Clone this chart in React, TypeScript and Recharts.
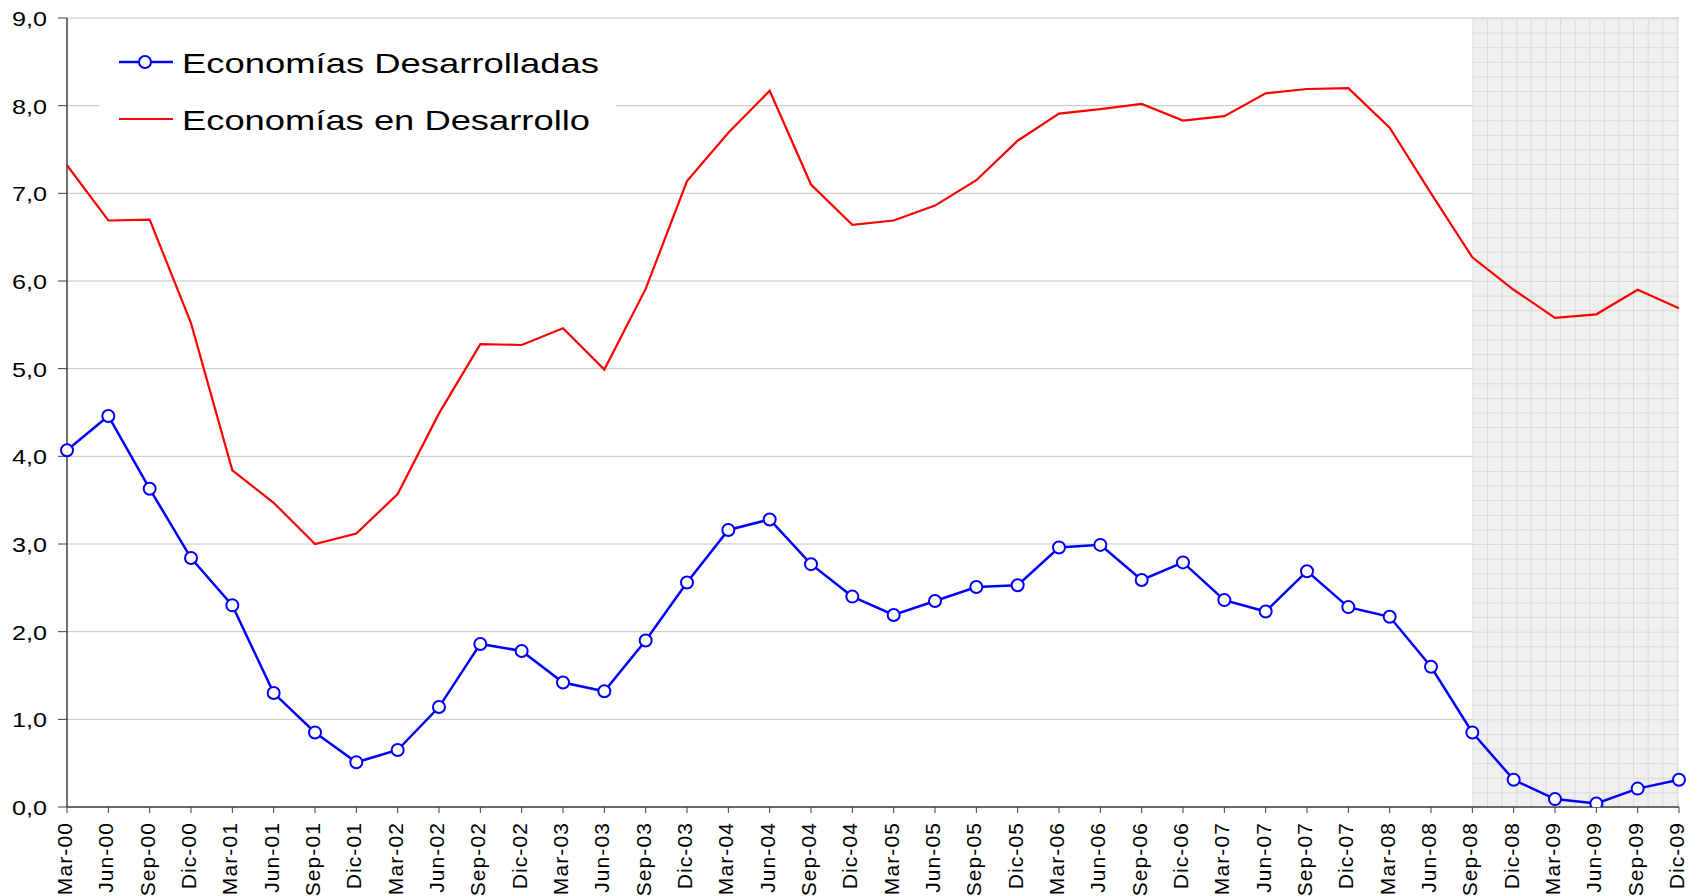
import React from 'react';
import { LineChart, Line, XAxis, YAxis, CartesianGrid, ReferenceArea, Legend } from 'recharts';

const categories = [
  'Mar-00', 'Jun-00', 'Sep-00', 'Dic-00',
  'Mar-01', 'Jun-01', 'Sep-01', 'Dic-01',
  'Mar-02', 'Jun-02', 'Sep-02', 'Dic-02',
  'Mar-03', 'Jun-03', 'Sep-03', 'Dic-03',
  'Mar-04', 'Jun-04', 'Sep-04', 'Dic-04',
  'Mar-05', 'Jun-05', 'Sep-05', 'Dic-05',
  'Mar-06', 'Jun-06', 'Sep-06', 'Dic-06',
  'Mar-07', 'Jun-07', 'Sep-07', 'Dic-07',
  'Mar-08', 'Jun-08', 'Sep-08', 'Dic-08',
  'Mar-09', 'Jun-09', 'Sep-09', 'Dic-09',
];

const developed = [
  4.07, 4.46, 3.63, 2.84,
  2.30, 1.30, 0.85, 0.51,
  0.65, 1.14, 1.86, 1.78,
  1.42, 1.32, 1.90, 2.56,
  3.16, 3.28, 2.77, 2.40,
  2.19, 2.35, 2.51, 2.53,
  2.96, 2.99, 2.59, 2.79,
  2.36, 2.23, 2.69, 2.28,
  2.17, 1.60, 0.85, 0.31,
  0.09, 0.04, 0.21, 0.31,
];

const developing = [
  7.32, 6.69, 6.70, 5.52,
  3.84, 3.47, 3.00, 3.12,
  3.57, 4.49, 5.28, 5.27,
  5.46, 4.99, 5.91, 7.14,
  7.69, 8.17, 7.10, 6.64,
  6.69, 6.86, 7.15, 7.60,
  7.91, 7.96, 8.02, 7.83,
  7.88, 8.14, 8.19, 8.20,
  7.75, 7.00, 6.27, 5.90,
  5.58, 5.62, 5.90, 5.69,
];

const yTicks = [0, 1, 2, 3, 4, 5, 6, 7, 8, 9];
const seriesNames = ['Economías Desarrolladas', 'Economías en Desarrollo'];
const shadeStart = 'Sep-08';
const shadeEnd = 'Dic-09';

const data = categories.map((c, i) => ({ cat: c, dev: developed[i], emg: developing[i] }));

const FONT = '"Liberation Sans", Arial, sans-serif';
const CELL = 87.67 / 6;

const YTick = (props: any) => {
  const { x, y, payload } = props;
  const label = Number(payload.value).toFixed(1).replace('.', ',');
  return (
    <text x={x} y={y + 8} textAnchor="end" fontSize={21} fontFamily={FONT} fill="#000"
      textLength={35} lengthAdjust="spacingAndGlyphs">
      {label}
    </text>
  );
};

const XTick = (props: any) => {
  const { x, payload } = props;
  return (
    <text transform={`translate(${x + 5},822) rotate(-90)`} textAnchor="end" fontSize={21}
      fontFamily={FONT} fill="#000" letterSpacing={1.1}>
      {payload.value}
    </text>
  );
};

const LegendBox = () => (
  <svg width={516} height={115} style={{ display: 'block' }}>
    <rect x={0} y={0} width={516} height={115} fill="#fff" />
    <line x1={19} x2={73} y1={27} y2={27} stroke="#0000ff" strokeWidth={2.5} />
    <circle cx={45} cy={27} r={6} fill="#fff" stroke="#0000ff" strokeWidth={2} />
    <text x={82} y={38} fontSize={28} fontFamily={FONT} fill="#000" textLength={417}
      lengthAdjust="spacingAndGlyphs">{seriesNames[0]}</text>
    <line x1={19} x2={73} y1={84} y2={84} stroke="#ff0000" strokeWidth={2.2} />
    <text x={82} y={95} fontSize={28} fontFamily={FONT} fill="#000" textLength={408}
      lengthAdjust="spacingAndGlyphs">{seriesNames[1]}</text>
  </svg>
);

export default function App() {
  return (
    <div style={{ position: 'absolute', left: 0, top: 0, background: '#fff' }}>
      <LineChart width={1699} height={896} data={data}
        margin={{ top: 18, right: 20, bottom: 0, left: 0 }}>
        <defs>
          <pattern id="shadeGrid" patternUnits="userSpaceOnUse" x={67 + 34 * (1612 / 39)} y={18}
            width={CELL} height={CELL}>
            <rect x={0} y={0} width={CELL} height={CELL} fill="#efefef" />
            <path d={`M0 0.5 H${CELL} M0.5 0 V${CELL}`} stroke="#d9d9d9" strokeWidth={1} fill="none" />
          </pattern>
        </defs>
        <CartesianGrid vertical={false} stroke="#c4c4c4" strokeWidth={1} />
        <ReferenceArea x1={shadeStart} x2={shadeEnd} y1={0} y2={9} fill="url(#shadeGrid)"
          fillOpacity={1} stroke="none" />
        <XAxis dataKey="cat" interval={0} height={89} tickSize={6} tick={<XTick />}
          axisLine={{ stroke: '#404040', strokeWidth: 1.5 }} tickLine={{ stroke: '#404040' }} />
        <YAxis domain={[0, 9]} ticks={yTicks} width={67} tickSize={9} tickMargin={11}
          tick={<YTick />} axisLine={{ stroke: '#404040', strokeWidth: 1.5 }}
          tickLine={{ stroke: '#404040' }} allowDataOverflow />
        <Line type="linear" dataKey="emg" name={seriesNames[1]} stroke="#ff0000" strokeWidth={2.2}
          dot={false} activeDot={false} isAnimationActive={false} />
        <Line type="linear" dataKey="dev" name={seriesNames[0]} stroke="#0000ff" strokeWidth={2.5}
          dot={{ r: 6, fill: '#fff', stroke: '#0000ff', strokeWidth: 2 }} activeDot={false}
          isAnimationActive={false} />
        <Legend layout="horizontal" verticalAlign="middle" align="center"
          wrapperStyle={{ position: 'absolute', left: 100, top: 35, width: 516, height: 115 }}
          content={() => <LegendBox />} />
      </LineChart>
    </div>
  );
}
